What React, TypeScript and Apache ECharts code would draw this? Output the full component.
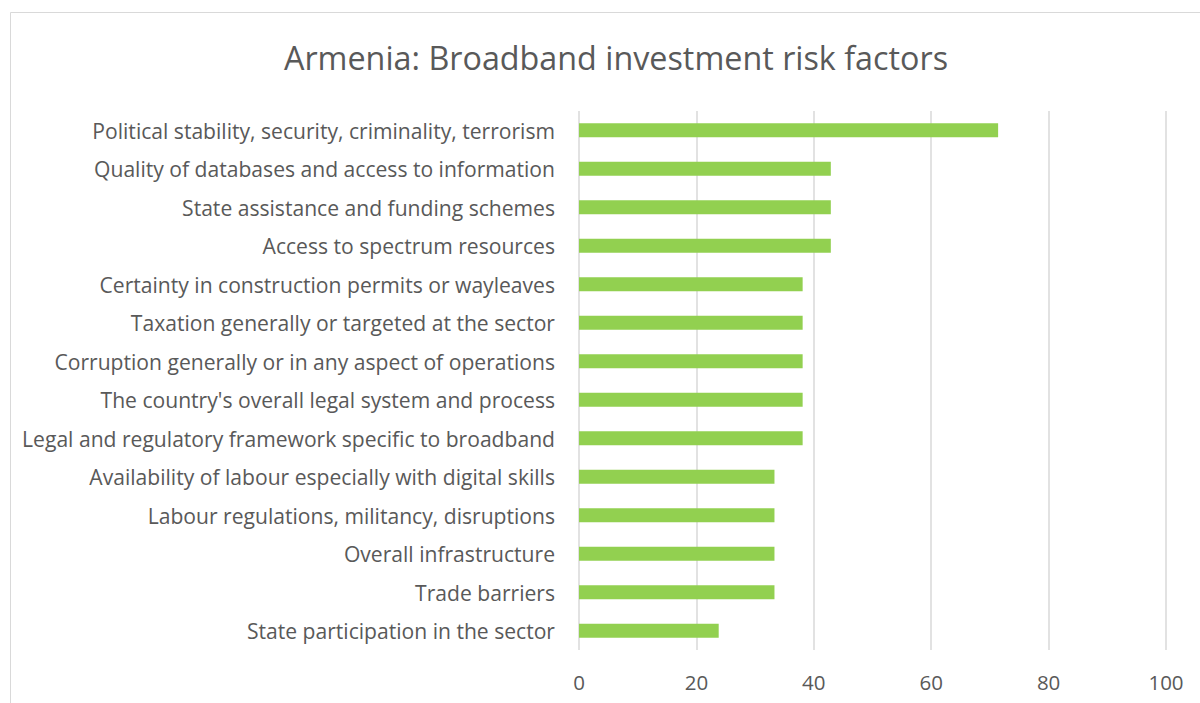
import React, { useEffect, useRef } from "react";
import * as echarts from "echarts";

const categories = [
  "Political stability, security, criminality, terrorism",
  "Quality of databases and access to information",
  "State assistance and funding schemes",
  "Access to spectrum resources",
  "Certainty in construction permits or wayleaves",
  "Taxation generally or targeted at the sector",
  "Corruption generally or in any aspect of operations",
  "The country's overall legal system and process",
  "Legal and regulatory framework specific to broadband",
  "Availability of labour especially with digital skills",
  "Labour regulations, militancy, disruptions",
  "Overall infrastructure",
  "Trade barriers",
  "State participation in the sector",
];
const values = [71.4, 42.9, 42.9, 42.9, 38.1, 38.1, 38.1, 38.1, 38.1, 33.3, 33.3, 33.3, 33.3, 23.8];
const title = "Armenia: Broadband investment risk factors";

export default function App() {
  const ref = useRef<HTMLDivElement>(null);
  useEffect(() => {
    const chart = echarts.init(ref.current!, null, { renderer: "svg" });
    const font = "'Open Sans', Lato, sans-serif";
    chart.setOption({
      animation: false,
      backgroundColor: "#ffffff",
      title: {
        text: title,
        left: 611,
        textAlign: "center",
        top: 36,
        textStyle: { fontFamily: font, fontSize: 32.3, fontWeight: "normal", color: "#595959" },
      },
      graphic: [
        {
          type: "rect",
          shape: { x: 10.5, y: 12.5, width: 1200, height: 700 },
          style: { fill: "none", stroke: "#d9d9d9", lineWidth: 1 },
          silent: true,
        },
      ],
      grid: { left: 579, right: 34, top: 111, bottom: 53 },
      xAxis: {
        type: "value",
        min: 0,
        max: 100,
        interval: 20,
        axisLine: { show: false },
        axisTick: { show: false },
        splitLine: { show: true, lineStyle: { color: "#d9d9d9", width: 1.5 } },
        axisLabel: { fontFamily: font, fontSize: 20.5, color: "#595959", margin: 21 },
      },
      yAxis: {
        type: "category",
        data: categories,
        inverse: true,
        axisLine: { show: false },
        axisTick: { show: false },
        axisLabel: { fontFamily: font, fontSize: 21.1, color: "#595959", margin: 24 },
      },
      series: [
        {
          type: "bar",
          data: values,
          barWidth: 14,
          itemStyle: { color: "#92d050" },
        },
      ],
    });
    return () => chart.dispose();
  }, []);
  return (
    <div
      ref={ref}
      style={{ position: "fixed", left: 0, top: 0, width: 1200, height: 703 }}
    />
  );
}
